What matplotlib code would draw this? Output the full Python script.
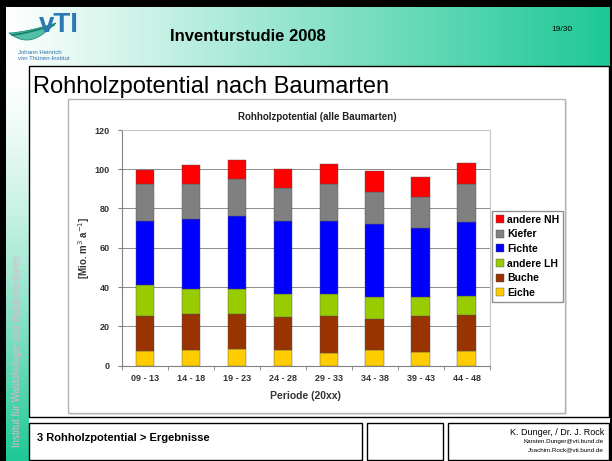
import numpy as np
import matplotlib
matplotlib.use('Agg')
import matplotlib.pyplot as plt
from matplotlib.patches import Rectangle, Polygon

plt.rcParams['font.family'] = ['Liberation Sans', 'DejaVu Sans']

# data (Mio. m3 per year)
periods = ['09 - 13', '14 - 18', '19 - 23', '24 - 28', '29 - 33', '34 - 38', '39 - 43', '44 - 48']
eiche = [7.3, 7.7, 8.3, 8.0, 6.5, 8.0, 6.8, 7.3]
buche = [17.7, 18.7, 18.1, 16.7, 18.5, 15.7, 18.2, 18.6]
andere_lh = [15.9, 12.7, 12.4, 11.9, 11.3, 11.0, 9.7, 9.5]
fichte = [32.6, 35.5, 37.5, 37.1, 37.4, 37.6, 35.6, 37.8]
kiefer = [18.8, 17.8, 18.5, 16.9, 18.6, 16.2, 15.5, 19.2]
andere_nh = [7.3, 9.6, 9.9, 9.5, 10.3, 10.4, 10.2, 10.7]

species = ['Eiche', 'Buche', 'andere LH', 'Fichte', 'Kiefer', 'andere NH']
colors = ['#FFCC00', '#993300', '#99CC00', '#0000FF', '#808080', '#FF0000']

W, H = 612, 461
fig = plt.figure(figsize=(W / 100, H / 100), dpi=100, facecolor='black')


def px(x0, y0, x1, y1):
    return [x0 / W, 1 - y1 / H, (x1 - x0) / W, (y1 - y0) / H]


# slide background, drawn in pixel coordinates
bg = fig.add_axes([0, 0, 1, 1])
bg.set_xlim(0, W)
bg.set_ylim(H, 0)
bg.axis('off')
bg.add_patch(Rectangle((6, 7), 604, 454, facecolor='white', edgecolor='none', zorder=-5))

teal = np.array([30, 200, 150]) / 255.0
hgrad = np.linspace(0, 1, 256)[None, :, None]
head = (1 - hgrad) * np.ones(3) + hgrad * teal
bg.imshow(head, extent=(6, 610, 66, 7), aspect='auto', interpolation='bilinear', zorder=0)
vgrad = np.linspace(0, 1, 256)[:, None, None] ** 1.4
strip = (1 - vgrad) * np.ones(3) + vgrad * teal
bg.imshow(strip, extent=(6, 29, 461, 66), aspect='auto', interpolation='bilinear', zorder=0)
bg.set_xlim(0, W)
bg.set_ylim(H, 0)

# logo
t = np.linspace(0, 1, 40)
upper = np.column_stack([9 + 47 * t, 33 - 10 * t ** 1.5])
lower = np.column_stack([56 - 47 * t, 23 + 17 * np.sin(t * np.pi * 0.8)])
bg.add_patch(Polygon(np.vstack([upper, lower]), closed=True, facecolor='#52BFA6',
                     edgecolor='#1E8C78', lw=0.6, zorder=2))
bg.plot(12 + 42 * t, 35 - 10 * t ** 1.3, color='#17806C', lw=1.2, zorder=2)
bg.text(39, 32, 'vTI', fontsize=20, fontweight='bold', color='#2A78B4', ha='left', va='baseline', zorder=3)
bg.text(18, 52, 'Johann Heinrich', fontsize=4.3, color='#3070B0', va='center')
bg.text(18, 58, 'von Thünen-Institut', fontsize=4.3, color='#3070B0', va='center')

bg.text(170, 41, 'Inventurstudie 2008', fontsize=12, fontweight='bold', ha='left', va='baseline')
bg.text(551, 31, '19/30', fontsize=6, ha='left', va='baseline')
bg.text(17, 351, 'Institut für Waldökologie und Waldinventuren', rotation=90, fontsize=7,
        color='#E8B4C6', ha='center', va='center', zorder=3)

# content box and footer boxes
bg.add_patch(Rectangle((29, 66), 580, 351, facecolor='white', edgecolor='black', lw=1, zorder=2))
bg.text(33, 93, 'Rohholzpotential nach Baumarten', fontsize=17, ha='left', va='baseline', zorder=4)
for x0, x1 in [(29, 362), (367, 443), (448, 609)]:
    bg.add_patch(Rectangle((x0, 423), x1 - x0, 37, facecolor='white', edgecolor='black', lw=1, zorder=2))
bg.text(37, 438, '3 Rohholzpotential > Ergebnisse', fontsize=8, fontweight='bold', va='center', zorder=4)
bg.text(604, 432, 'K. Dunger, / Dr. J. Rock', fontsize=6.5, ha='right', va='center', zorder=4)
bg.text(604, 441.5, 'Karsten.Dunger@vti.bund.de', fontsize=4.5, ha='right', va='center', zorder=4)
bg.text(604, 449.5, 'Joachim.Rock@vti.bund.de', fontsize=4.5, ha='right', va='center', zorder=4)

# chart frame with shadow
bg.add_patch(Rectangle((70, 101), 497, 314, facecolor='#E4E4E4', edgecolor='none', zorder=3))
bg.add_patch(Rectangle((68, 99), 497, 314, facecolor='white', edgecolor='#B4B4B4', lw=1, zorder=3))
bg.text(317, 117, 'Rohholzpotential (alle Baumarten)', fontsize=7, fontweight='bold',
        ha='center', va='center', color='#222222', zorder=4)

# stacked bar chart
ax = fig.add_axes(px(122, 130, 489.5, 365.5))
x = np.arange(len(periods))
bottom = np.zeros(len(periods))
handles = []
for name, vals, c in zip(species, [eiche, buche, andere_lh, fichte, kiefer, andere_nh], colors):
    b = ax.bar(x, vals, width=0.4, bottom=bottom, color=c, edgecolor='#555555', lw=0.3,
               label=name, zorder=3)
    handles.append(b)
    bottom += np.array(vals)

ax.set_xlim(-0.5, 7.5)
ax.set_ylim(0, 120)
ax.set_yticks(range(0, 121, 20))
ax.set_xticks(x)
ax.set_xticklabels(periods)
ax.set_xticks(np.arange(-0.5, 8, 1), minor=True)
ax.tick_params(axis='x', which='major', length=0, pad=6)
ax.tick_params(axis='x', which='minor', length=3, color='#808080', direction='out')
ax.tick_params(axis='y', length=3, color='#808080', pad=6)
for lab in ax.get_xticklabels() + ax.get_yticklabels():
    lab.set_fontsize(6.5)
    lab.set_fontweight('bold')
    lab.set_color('#333333')
ax.grid(axis='y', color='#8C8C8C', lw=0.7, zorder=0)
for s in ['left', 'bottom']:
    ax.spines[s].set_color('#808080')
for s in ['top', 'right']:
    ax.spines[s].set_color('#C8C8C8')
ax.set_xlabel('Periode (20xx)', fontsize=7.5, fontweight='bold', color='#333333', labelpad=6)
ax.set_ylabel('[Mio. m$^3$ a$^{-1}$]', fontsize=7, fontweight='bold', color='#333333', labelpad=2)

fig.legend(handles[::-1], species[::-1], loc='upper left',
           bbox_to_anchor=(492 / W, 1 - 211 / H), prop={'size': 7.5, 'weight': 'bold'},
           frameon=True, fancybox=False, edgecolor='#909090', framealpha=1,
           handlelength=0.8, handleheight=0.8, handletextpad=0.3, labelspacing=0.45,
           borderpad=0.35, borderaxespad=0)

fig.savefig('out.png', dpi=100, facecolor=fig.get_facecolor())
